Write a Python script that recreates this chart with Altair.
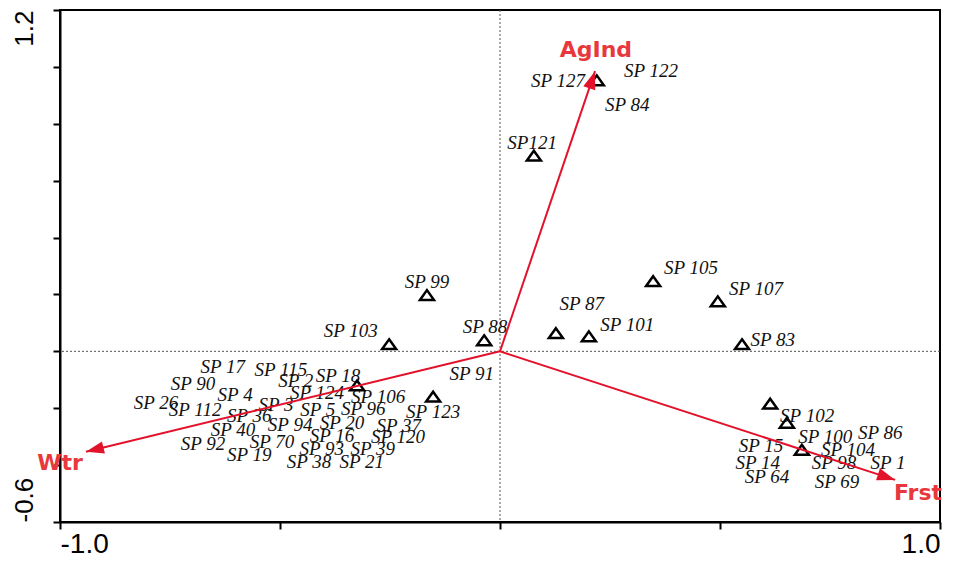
import math
import altair as alt
import pandas as pd

# ---- data -------------------------------------------------------------
label_names = [
    "SP 17", "SP 115", "SP 2", "SP 18", "SP 90", "SP 4", "SP 124", "SP 106",
    "SP 26", "SP 112", "SP 36", "SP 3", "SP 5", "SP 96", "SP 123", "SP 94",
    "SP 20", "SP 40", "SP 37", "SP 16", "SP 120", "SP 92", "SP 70", "SP 93",
    "SP 39", "SP 19", "SP 38", "SP 21", "SP 91", "SP 99", "SP 103", "SP 88",
    "SP 87", "SP 101", "SP 105", "SP 107", "SP 83", "SP121", "SP 127",
    "SP 122", "SP 84", "SP 102", "SP 100", "SP 86", "SP 15", "SP 104",
    "SP 14", "SP 98", "SP 1", "SP 64", "SP 69",
]
label_x = [
    -0.630, -0.498, -0.464, -0.368, -0.698, -0.602, -0.416, -0.277,
    -0.782, -0.693, -0.570, -0.509, -0.414, -0.311, -0.152, -0.477,
    -0.359, -0.607, -0.230, -0.382, -0.232, -0.675, -0.518, -0.405,
    -0.289, -0.570, -0.434, -0.314, -0.064, -0.166, -0.339, -0.034,
    0.186, 0.289, 0.434, 0.582, 0.620, 0.073, 0.132,
    0.343, 0.289, 0.698, 0.739, 0.864, 0.593, 0.791,
    0.586, 0.759, 0.882, 0.607, 0.766,
]
label_y = [
    -0.056, -0.064, -0.106, -0.088, -0.116, -0.152, -0.145, -0.159,
    -0.180, -0.208, -0.229, -0.187, -0.205, -0.201, -0.212, -0.258,
    -0.251, -0.275, -0.261, -0.297, -0.300, -0.325, -0.318, -0.342,
    -0.342, -0.364, -0.388, -0.388, -0.078, 0.244, 0.071, 0.085,
    0.166, 0.092, 0.293, 0.219, 0.039, 0.731, 0.950,
    0.985, 0.865, -0.229, -0.300, -0.286, -0.332, -0.346,
    -0.392, -0.392, -0.392, -0.441, -0.459,
]

marker_x = [0.077, 0.220, -0.166, -0.252, -0.036, 0.127, 0.202, 0.348,
            0.495, 0.550, 0.614, 0.652, 0.686, -0.325, -0.152]
marker_y = [0.688, 0.953, 0.198, 0.025, 0.039, 0.064, 0.053, 0.247,
            0.176, 0.025, -0.184, -0.251, -0.346, -0.120, -0.159]

vector_names = ["AgInd", "Wtr", "Frst"]
vector_x = [0.216, -0.941, 0.898]
vector_y = [0.985, -0.353, -0.452]
vector_label_x = [0.218, -1.0, 0.950]
vector_label_y = [1.060, -0.392, -0.498]

x_ticks = [-1.0, -0.5, 0.0, 0.5, 1.0]
y_ticks = [-0.6, -0.4, -0.2, 0.0, 0.2, 0.4, 0.6, 0.8, 1.0, 1.2]

# ---- layout -------------------------------------------------------------
W, H = 880, 512
X_DOM = [-1.0, 1.0]
Y_DOM = [-0.6, 1.2]
px_x = W / (X_DOM[1] - X_DOM[0])
px_y = H / (Y_DOM[1] - Y_DOM[0])

labels_df = pd.DataFrame({"name": label_names, "x": label_x, "y": label_y})
markers_df = pd.DataFrame({"x": marker_x, "y": marker_y})
vec_df = pd.DataFrame({
    "name": vector_names, "x": vector_x, "y": vector_y,
    "x0": [0.0] * 3, "y0": [0.0] * 3,
    "lx": vector_label_x, "ly": vector_label_y,
})
vec_df["angle"] = [
    math.degrees(math.atan2(vx * px_x, vy * px_y)) % 360
    for vx, vy in zip(vector_x, vector_y)
]

RED = "#e3122b"
RED_TXT = "#e8383d"

xscale = alt.Scale(domain=X_DOM, nice=False, zero=False)
yscale = alt.Scale(domain=Y_DOM, nice=False, zero=False)

x_axis = alt.Axis(
    values=x_ticks,
    labelExpr="datum.value < -0.99 ? '-1.0' : (datum.value > 0.99 ? '1.0' : '')",
    labelFlush=True, labelOverlap=False,
    labelFont="Liberation Sans", labelFontSize=28, labelColor="black",
    labelPadding=1, tickSize=7, title=None, grid=False,
)
y_axis = alt.Axis(
    values=y_ticks,
    labelExpr="abs(datum.value - 1.2) < 1e-6 ? '1.2' : (abs(datum.value + 0.6) < 1e-6 ? '-0.6' : '')",
    labelAngle=270,
    labelAlign={"condition": {"test": "datum.value > 0", "value": "right"}, "value": "left"},
    labelBaseline="alphabetic",
    labelOverlap=False,
    labelFont="Liberation Sans", labelFontSize=26, labelColor="black",
    labelPadding=21, tickSize=7, title=None, grid=False,
)

base_x = alt.X("x:Q", scale=xscale, axis=x_axis)
base_y = alt.Y("y:Q", scale=yscale, axis=y_axis)

vline = alt.Chart(pd.DataFrame({"v": [0.0]})).mark_rule(
    color="#555555", strokeWidth=1, strokeDash=[2, 2]
).encode(x=alt.X("v:Q", scale=xscale, axis=x_axis))
hline = alt.Chart(pd.DataFrame({"v": [0.0]})).mark_rule(
    color="#555555", strokeWidth=1, strokeDash=[2, 2]
).encode(y=alt.Y("v:Q", scale=yscale, axis=y_axis))

texts = alt.Chart(labels_df).mark_text(
    font="Liberation Serif", fontStyle="italic", fontSize=19,
    align="center", baseline="middle", color="#111111",
).encode(x=base_x, y=base_y, text="name:N")

markers = alt.Chart(markers_df).mark_point(
    shape="M0,-0.7L1,0.7L-1,0.7Z", size=196, filled=False,
    color="black", strokeWidth=2.5, opacity=1,
).encode(x=base_x, y=base_y)

vec_lines = alt.Chart(vec_df).mark_rule(color=RED, strokeWidth=2).encode(
    x=alt.X("x0:Q", scale=xscale, axis=x_axis),
    y=alt.Y("y0:Q", scale=yscale, axis=y_axis),
    x2="x:Q", y2="y:Q",
)
vec_heads = alt.Chart(vec_df).mark_point(
    shape="M0,0L-0.35,1L0.35,1Z", size=1296, filled=True,
    color=RED, opacity=1, strokeWidth=0,
).encode(x=base_x, y=base_y, angle=alt.Angle("angle:Q", scale=None))

vec_labels = alt.Chart(vec_df).mark_text(
    font="DejaVu Sans", fontWeight="bold", fontSize=22,
    align="center", baseline="middle", color=RED_TXT,
).encode(
    x=alt.X("lx:Q", scale=xscale, axis=x_axis),
    y=alt.Y("ly:Q", scale=yscale, axis=y_axis),
    text="name:N",
)

chart = alt.layer(
    vline, hline, texts, markers, vec_lines, vec_heads, vec_labels
).properties(
    width=W, height=H,
    autosize=alt.AutoSizeParams(type="none"),
    padding={"left": 52, "top": 2, "right": 5, "bottom": 31},
).configure_view(
    stroke="black", strokeWidth=2
).configure_axis(
    domainColor="black", domainWidth=2, tickColor="black", tickWidth=2,
)

chart.save("out.html", embed_options={"renderer": "svg", "actions": False})
